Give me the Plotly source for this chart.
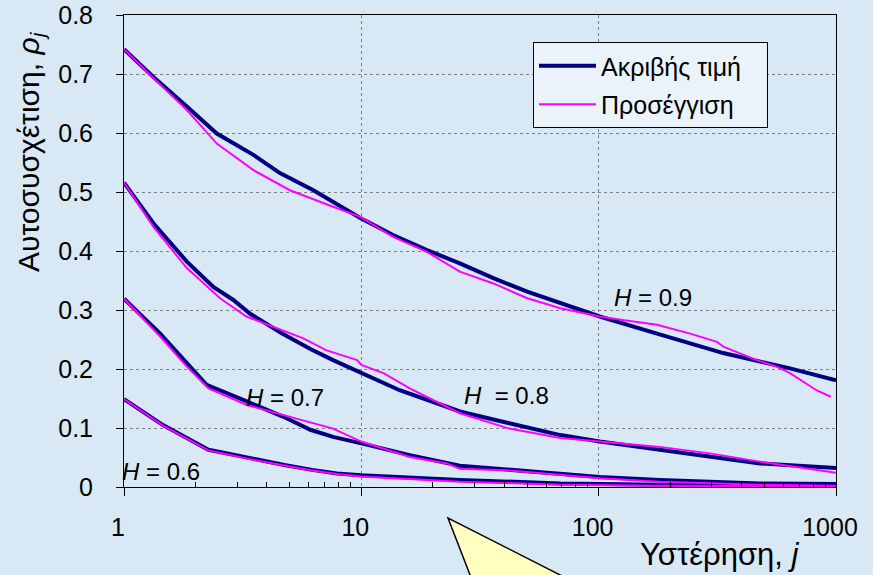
import plotly.graph_objects as go

# ---- data ----
j_h09_exact = [1, 1.33, 1.84, 2.46, 3.51, 4.54, 6.28, 9.9, 13.6, 18.8, 26, 36, 50, 69, 101, 176, 335, 640, 1000]
h09_exact = [0.742, 0.695, 0.645, 0.599, 0.563, 0.532, 0.503, 0.456, 0.427, 0.402, 0.379, 0.354, 0.331, 0.311, 0.289, 0.260, 0.227, 0.201, 0.181]

j_h09_approx = [1, 1.33, 1.84, 2.46, 3.51, 5.0, 7.6, 9.9, 13.6, 18.8, 21.5, 26, 36, 50, 69, 101, 126, 176, 243, 315, 335, 464, 562, 640, 827, 950]
h09_approx = [0.742, 0.693, 0.639, 0.582, 0.537, 0.503, 0.475, 0.458, 0.424, 0.399, 0.385, 0.365, 0.345, 0.320, 0.303, 0.289, 0.283, 0.275, 0.260, 0.246, 0.238, 0.215, 0.204, 0.193, 0.164, 0.153]

j_h08_exact = [1, 1.33, 1.84, 2.38, 2.89, 3.39, 4.6, 6.1, 7.6, 10, 14.5, 22.9, 26, 42, 69, 101, 181, 294, 478, 1000]
h08_exact = [0.516, 0.447, 0.382, 0.339, 0.317, 0.294, 0.261, 0.234, 0.215, 0.193, 0.164, 0.136, 0.128, 0.108, 0.088, 0.077, 0.063, 0.051, 0.040, 0.032]

j_h08_approx = [1, 1.33, 1.84, 2.54, 3.28, 4.4, 5.7, 7.1, 8.5, 9.6, 10, 12.4, 16, 22.9, 26, 42, 69, 101, 181, 294, 478, 1000]
h08_approx = [0.516, 0.441, 0.371, 0.320, 0.289, 0.269, 0.252, 0.232, 0.222, 0.215, 0.207, 0.193, 0.167, 0.136, 0.125, 0.099, 0.083, 0.077, 0.068, 0.057, 0.043, 0.024]

j_h07_exact = [1, 1.42, 1.84, 2.23, 3.29, 4.7, 6.1, 7.6, 10, 16, 26, 42, 69, 101, 181, 294, 478, 1000]
h07_exact = [0.319, 0.260, 0.210, 0.173, 0.145, 0.119, 0.097, 0.085, 0.074, 0.054, 0.036, 0.029, 0.023, 0.017, 0.012, 0.009, 0.006, 0.005]

j_h07_approx = [1, 1.42, 1.84, 2.27, 3.29, 4.7, 7.6, 10, 14.5, 16, 22.9, 26, 42, 69, 101, 181, 478, 1000]
h07_approx = [0.319, 0.255, 0.204, 0.167, 0.139, 0.122, 0.099, 0.077, 0.057, 0.051, 0.040, 0.031, 0.028, 0.020, 0.015, 0.009, 0.004, 0.002]

j_h06 = [1, 1.46, 2.27, 3.5, 4.8, 6.2, 7.9, 10, 26, 69, 181, 1000]
h06_exact = [0.149, 0.105, 0.063, 0.047, 0.037, 0.029, 0.023, 0.020, 0.012, 0.006, 0.004, 0.003]
h06_approx = [0.149, 0.104, 0.062, 0.046, 0.036, 0.028, 0.022, 0.018, 0.009, 0.004, 0.002, 0.001]

x_ticks = [1, 10, 100, 1000]
x_ticklabels = ["1", "10", "100", "1000"]
curve_labels = ["0.9", "0.8", "0.7", "0.6"]
legend_names = ["Ακριβής τιμή", "Προσέγγιση"]

NAVY = "#000080"
MAGENTA = "#FF00FF"
BG = "#D9E8F5"
FONT = "Liberation Sans, Arial, sans-serif"

exact = [(j_h09_exact, h09_exact), (j_h08_exact, h08_exact), (j_h07_exact, h07_exact), (j_h06, h06_exact)]
approx = [(j_h09_approx, h09_approx), (j_h08_approx, h08_approx), (j_h07_approx, h07_approx), (j_h06, h06_approx)]

PAD = "\u00a0\u00a0\u00a0"
fig = go.Figure()
for i, (xs, ys) in enumerate(exact):
    fig.add_trace(go.Scatter(x=xs, y=ys, mode="lines", line=dict(color=NAVY, width=4),
                             name=legend_names[0] + PAD, legendgroup="exact", showlegend=(i == 0)))
for i, (xs, ys) in enumerate(approx):
    fig.add_trace(go.Scatter(x=xs, y=ys, mode="lines", line=dict(color=MAGENTA, width=2),
                             name=legend_names[1], legendgroup="approx", showlegend=(i == 0)))

L, R, T, B = 124, 37, 15, 88
W, H = 873, 575
pw, ph = W - L - R, H - T - B

def px(x):
    return (x - L) / pw

def py(y):
    return (H - B - y) / ph

fig.update_layout(
    width=W, height=H,
    margin=dict(l=L, r=R, t=T, b=B, pad=0, autoexpand=False),
    paper_bgcolor=BG, plot_bgcolor=BG,
    font=dict(family=FONT, size=25, color="black"),
    showlegend=True,
    legend=dict(x=px(533), y=py(42), xanchor="left", yanchor="top",
                bgcolor="#EBF3FA", bordercolor="black", borderwidth=1,
                font=dict(size=25), traceorder="grouped", tracegroupgap=3,
                itemwidth=57),
    xaxis=dict(type="log", range=[0, 3], tickvals=x_ticks, ticktext=x_ticklabels,
               ticks="outside", ticklen=8, tickcolor="black", tickwidth=1,
               showline=True, linecolor="black", linewidth=1, mirror=True,
               showgrid=True, gridcolor="#808080", griddash="dot", gridwidth=1,
               zeroline=False, ticklabelstandoff=10, ticklabelshift=-6, automargin=False,
               tickfont=dict(size=25),
               minor=dict(ticks="inside", ticklen=5, tickcolor="black", showgrid=False,
                          tickvals=[2, 3, 4, 5, 6, 7, 8, 9, 20, 30, 40, 50, 60, 70, 80, 90,
                                    200, 300, 400, 500, 600, 700, 800, 900])),
    yaxis=dict(range=[0, 0.8], dtick=0.1, tick0=0,
               ticks="outside", ticklen=7, tickcolor="black",
               showline=True, linecolor="black", linewidth=1, mirror=True,
               showgrid=True, gridcolor="#808080", griddash="dot", gridwidth=1,
               zeroline=False, ticklabelstandoff=18, automargin=False,
               tickfont=dict(size=25)),
)

# curve labels
label_pos = [(612, 297), (462, 395), (244, 397), (120, 471)]
for lab, (lx, ly) in zip(curve_labels, label_pos):
    sep = "\u00a0\u00a0= " if lab == "0.8" else " = "
    fig.add_annotation(x=px(lx), y=py(ly), xref="paper", yref="paper",
                       xanchor="left", yanchor="middle", showarrow=False,
                       text="<i>H</i>" + sep + lab, font=dict(size=24))

# axis titles
fig.add_annotation(x=px(720), y=py(554), xref="paper", yref="paper", showarrow=False,
                   xanchor="center", yanchor="middle",
                   text="Υστέρηση, <i>j</i>", font=dict(size=31))
fig.add_annotation(x=px(30), y=py(152), xref="paper", yref="paper", showarrow=False,
                   xanchor="center", yanchor="middle",
                   textangle=-90, text="Αυτοσυσχέτιση, <i>ρ<sub>j</sub></i>", font=dict(size=30))

# yellow callout pointer at bottom
fig.add_shape(type="path", xref="paper", yref="paper",
              path=f"M {px(448)} {py(518)} L {px(472)} {py(580)} L {px(570)} {py(580)} Z",
              fillcolor="#FFFFC0", line=dict(color="black", width=1.5), layer="above")

fig.write_html("out.html", config={"displayModeBar": False},
               post_script="document.body.style.margin='0';document.body.style.background='" + BG + "';")
